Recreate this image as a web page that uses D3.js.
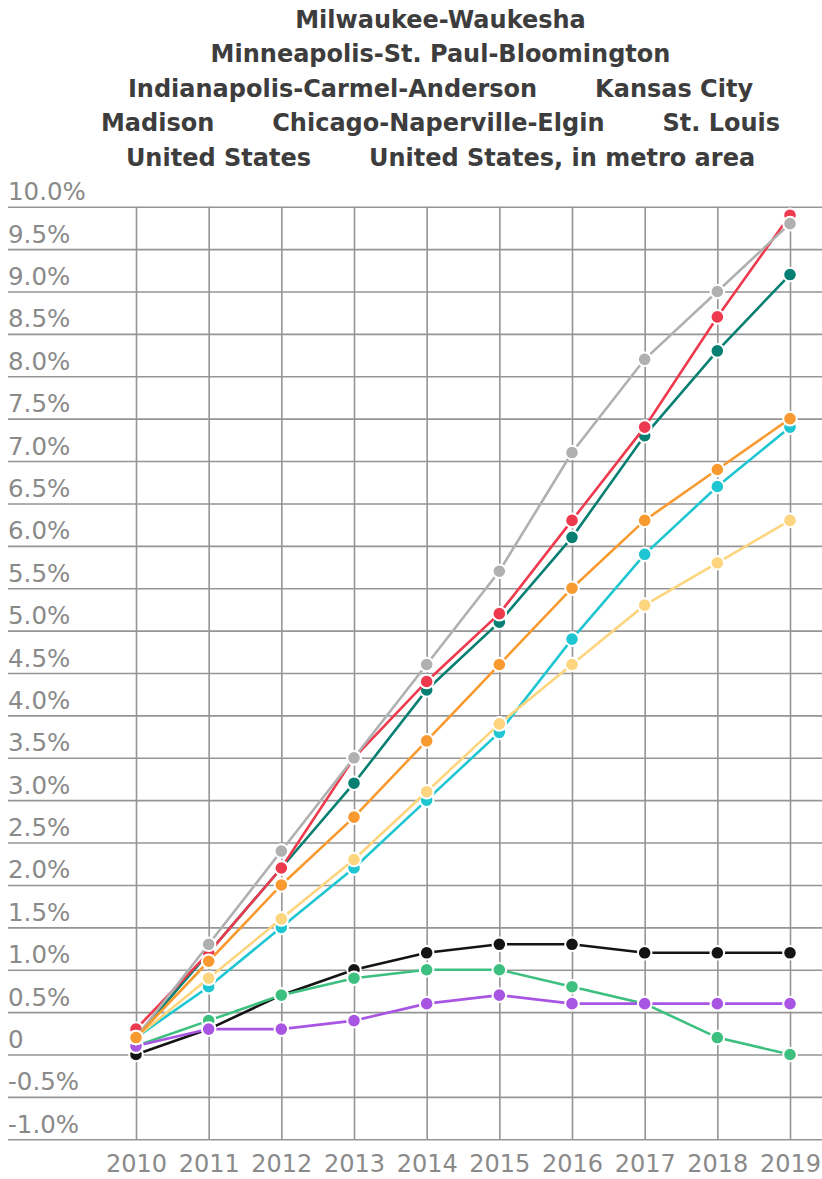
<!DOCTYPE html>
<html>
<head>
<meta charset="utf-8">
<script src="https://cdn.jsdelivr.net/npm/d3@7"></script>
<style>
  html, body { margin: 0; padding: 0; background: #fff; }
  svg { display: block; }
</style>
</head>
<body>
<svg id="chart" width="822" height="1179"></svg>
<script>
// Cumulative population change since 2010, in percent
const years = [2010, 2011, 2012, 2013, 2014, 2015, 2016, 2017, 2018, 2019];

const yTicks = [-1, -0.5, 0, 0.5, 1, 1.5, 2, 2.5, 3, 3.5, 4, 4.5, 5, 5.5, 6, 6.5, 7, 7.5, 8, 8.5, 9, 9.5, 10];
const yTickLabels = ["-1.0%", "-0.5%", "0", "0.5%", "1.0%", "1.5%", "2.0%", "2.5%", "3.0%", "3.5%", "4.0%", "4.5%",
  "5.0%", "5.5%", "6.0%", "6.5%", "7.0%", "7.5%", "8.0%", "8.5%", "9.0%", "9.5%", "10.0%"];

// Legend order
const legendNames = [
  "Milwaukee-Waukesha",
  "Minneapolis-St. Paul-Bloomington",
  "Indianapolis-Carmel-Anderson",
  "Kansas City",
  "Madison",
  "Chicago-Naperville-Elgin",
  "St. Louis",
  "United States",
  "United States, in metro area"
];

// Series values, one array per area
const milwaukee    = [0.1, 0.3, 0.3, 0.4, 0.6, 0.7, 0.6, 0.6, 0.6, 0.6];
const minneapolis  = [0.2, 1.2, 2.2, 3.2, 4.3, 5.1, 6.1, 7.3, 8.3, 9.2];
const indianapolis = [0.2, 1.3, 2.4, 3.5, 4.6, 5.7, 7.1, 8.2, 9.0, 9.8];
const kansasCity   = [0.2, 1.1, 2.0, 2.8, 3.7, 4.6, 5.5, 6.3, 6.9, 7.5];
const madison      = [0.3, 1.2, 2.2, 3.5, 4.4, 5.2, 6.3, 7.4, 8.7, 9.9];
const chicago      = [0.1, 0.4, 0.7, 0.9, 1.0, 1.0, 0.8, 0.6, 0.2, 0.0];
const stLouis      = [0.0, 0.3, 0.7, 1.0, 1.2, 1.3, 1.3, 1.2, 1.2, 1.2];
const unitedStates = [0.2, 0.9, 1.6, 2.3, 3.1, 3.9, 4.6, 5.3, 5.8, 6.3];
const usMetro      = [0.2, 0.8, 1.5, 2.2, 3.0, 3.8, 4.9, 5.9, 6.7, 7.4];

// Drawing order, bottom to top
const series = [
  { name: "St. Louis", values: stLouis, color: "#141414" },
  { name: "Chicago-Naperville-Elgin", values: chicago, color: "#3dbf7f" },
  { name: "Milwaukee-Waukesha", values: milwaukee, color: "#a855e3" },
  { name: "United States, in metro area", values: usMetro, color: "#1ec6d2" },
  { name: "United States", values: unitedStates, color: "#fdd57e" },
  { name: "Minneapolis-St. Paul-Bloomington", values: minneapolis, color: "#087f73" },
  { name: "Madison", values: madison, color: "#ee3a4f" },
  { name: "Indianapolis-Carmel-Anderson", values: indianapolis, color: "#b0b0b0" },
  { name: "Kansas City", values: kansasCity, color: "#f89a2f" }
];

const svg = d3.select("#chart");
const W = 822;

const x = d3.scaleLinear().domain([2010, 2019]).range([136, 790]);
const y = d3.scaleLinear().domain([-1, 10]).range([1139.3, 206.7]);

const gridColor = "#959595";
const tickColor = "#8a8a8a";
const tickFont = "DejaVu Sans, sans-serif";

// Horizontal grid with labels sitting above each line
const yAxis = d3.axisRight(y)
  .tickValues(yTicks)
  .tickSize(W - 8)
  .tickFormat((d, i) => yTickLabels[i]);

const gy = svg.append("g")
  .attr("transform", "translate(8,0)")
  .call(yAxis);
gy.select(".domain").remove();
gy.selectAll(".tick line").attr("stroke", gridColor).attr("stroke-width", 1.6);
gy.selectAll(".tick text")
  .attr("x", 0)
  .attr("dy", 0)
  .attr("y", -7)
  .attr("text-anchor", "start")
  .attr("fill", tickColor)
  .style("font-family", tickFont)
  .style("font-size", "24.5px");

// Vertical grid
const xAxis = d3.axisBottom(x)
  .tickValues(years)
  .tickSize(y(-1) - y(10))
  .tickFormat(d3.format("d"));

const gx = svg.append("g")
  .attr("transform", `translate(0,${y(10)})`)
  .call(xAxis);
gx.select(".domain").remove();
gx.selectAll(".tick line").attr("stroke", gridColor).attr("stroke-width", 1.6);
gx.selectAll(".tick text")
  .attr("dy", 0)
  .attr("y", 1172.5 - y(10))
  .attr("fill", tickColor)
  .style("font-family", tickFont)
  .style("font-size", "24px");

// Lines and markers
const line = d3.line()
  .x((d, i) => x(years[i]))
  .y(d => y(d));

const groups = svg.append("g").selectAll("g.series")
  .data(series)
  .join("g")
  .attr("class", "series");

groups.append("path")
  .attr("d", d => line(d.values))
  .attr("fill", "none")
  .attr("stroke", d => d.color)
  .attr("stroke-width", 2.6);

groups.selectAll("circle")
  .data(d => d.values.map((v, i) => ({ v, i, color: d.color })))
  .join("circle")
  .attr("cx", d => x(years[d.i]))
  .attr("cy", d => y(d.v))
  .attr("r", 6.8)
  .attr("fill", d => d.color)
  .attr("stroke", "#fff")
  .attr("stroke-width", 2);

// Legend: names wrapped into centred rows
const legend = svg.append("g")
  .style("font-family", "DejaVu Sans, sans-serif")
  .style("font-weight", "bold")
  .style("font-size", "24px")
  .attr("fill", "#3d3d3d");

const gap = 58, maxRow = 740, centerX = 440.5, firstBaseline = 27.5, rowStep = 34.6;

const items = legend.selectAll("text")
  .data(legendNames)
  .join("text")
  .text(d => d);

const widths = [];
items.each(function () { widths.push(this.getComputedTextLength()); });

const rows = [];
let cur = [];
let curW = 0;
legendNames.forEach((n, i) => {
  const w = widths[i];
  const add = cur.length ? gap + w : w;
  if (cur.length && curW + add > maxRow) {
    rows.push({ items: cur, width: curW });
    cur = [];
    curW = 0;
  }
  cur.push(i);
  curW += cur.length > 1 ? gap + w : w;
});
if (cur.length) rows.push({ items: cur, width: curW });

rows.forEach((row, r) => {
  let xPos = centerX - row.width / 2;
  row.items.forEach(i => {
    d3.select(items.nodes()[i])
      .attr("x", xPos)
      .attr("y", firstBaseline + r * rowStep);
    xPos += widths[i] + gap;
  });
});
</script>
</body>
</html>
